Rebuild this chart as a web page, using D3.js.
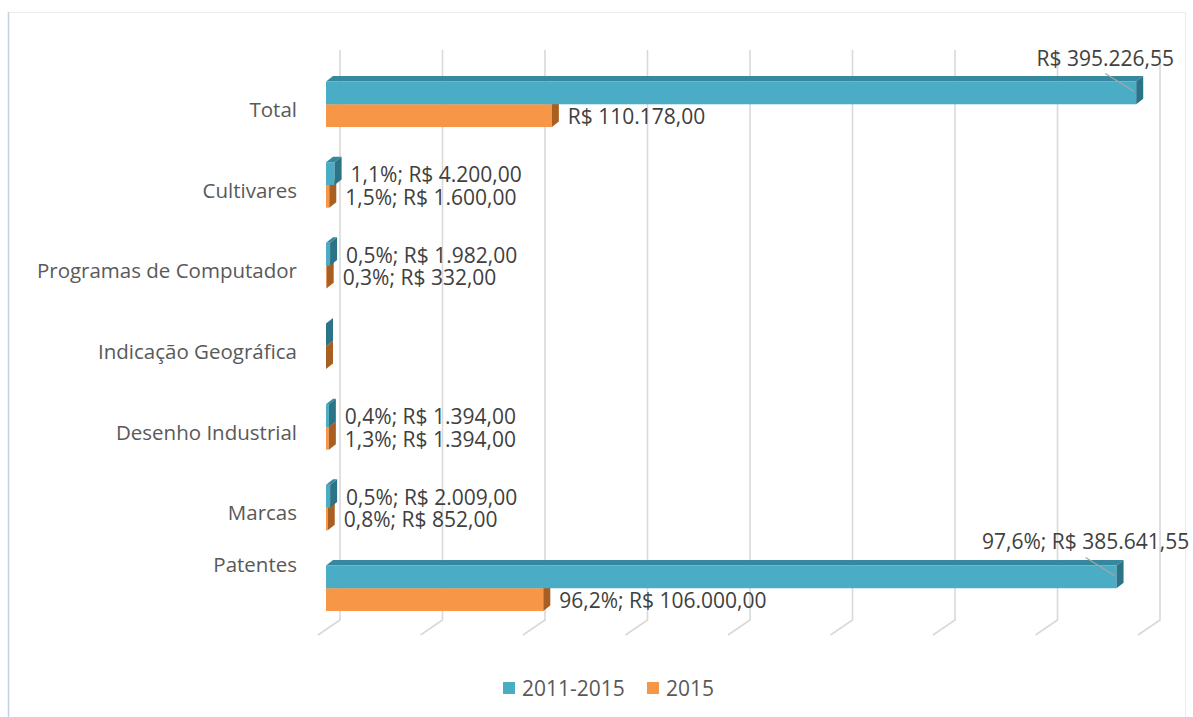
<!DOCTYPE html>
<html>
<head>
<meta charset="utf-8">
<script src="https://cdn.jsdelivr.net/npm/d3@7"></script>
<style>
  body { margin: 0; background: #fff; }
  svg { display: block; font-family: "Open Sans", sans-serif; }
</style>
</head>
<body>
<svg id="chart" width="1193" height="717"></svg>
<script>
// categories, top to bottom
var categories = ["Total", "Cultivares", "Programas de Computador", "Indicação Geográfica",
    "Desenho Industrial", "Marcas", "Patentes"];
var seriesNames = ["2011-2015", "2015"];
var values20112015 = [395226.55, 4200, 1982, 0, 1394, 2009, 385641.55];
var values2015 = [110178, 1600, 332, 0, 1394, 852, 106000];
var pct20112015 = [null, 1.1, 0.5, null, 0.4, 0.5, 97.6];
var pct2015 = [null, 1.5, 0.3, null, 1.3, 0.8, 96.2];
var gridTicks = [0, 50000, 100000, 150000, 200000, 250000, 300000, 350000, 400000];

var colors = {
    "2011-2015": { front: "#4bacc6", top: "#36889e", side: "#2b7487" },
    "2015": { front: "#f79646", top: "#c6722f", side: "#a95f22" }
};

var svg = d3.select("#chart");

// pt-BR number format
var br = d3.formatLocale({ decimal: ",", thousands: ".", grouping: [3], currency: ["R$ ", ""] });
var money = br.format("$,.2f");
var pctFmt = br.format(",.1f");

// scales
var x = d3.scaleLinear().domain([0, 400000]).range([326, 1146]);
var y = d3.scaleBand().domain(categories).range([63.7, 628.3]);
var inner = d3.scaleBand().domain(seriesNames).range([-22.5, 23]);

// 3d offsets
var dx = 7, dy = 5.5;       // bar depth
var wallDx = 14, floorDx = 22, floorDy = 15;

// outer frame
svg.append("rect")
    .attr("x", 8.5).attr("y", 12.5)
    .attr("width", 1177).attr("height", 712)
    .attr("fill", "none")
    .attr("stroke", "#ececec");
svg.append("line")
    .attr("x1", 8.5).attr("x2", 8.5)
    .attr("y1", 12).attr("y2", 717)
    .attr("stroke", "#c3cfe4")
    .attr("stroke-width", 1.5);

// gridlines on the back wall + floor
var grid = svg.append("g");
gridTicks.forEach(function (t) {
    var gx = x(t) + wallDx;
    grid.append("path")
        .attr("d", "M" + gx + ",50 L" + gx + ",620 L" + (gx - floorDx) + "," + (620 + floorDy))
        .attr("fill", "none")
        .attr("stroke", "#d9d9d9")
        .attr("stroke-width", 1.6);
});

// category labels
svg.append("g").selectAll("text")
    .data(categories)
    .join("text")
    .attr("x", 297)
    .attr("y", function (d, i) {
        // the last label sits higher in the original
        return y(d) + y.bandwidth() / 2 + (i === categories.length - 1 ? -16 : 13);
    })
    .attr("text-anchor", "end")
    .attr("font-size", "20.5px")
    .attr("fill", "#595959")
    .text(function (d) { return d; });

// bar data
var bars = [];
categories.forEach(function (c, i) {
    bars.push({ cat: c, s: "2015", v: values2015[i], p: pct2015[i] });
    bars.push({ cat: c, s: "2011-2015", v: values20112015[i], p: pct20112015[i] });
});

var barG = svg.append("g");
bars.forEach(function (b) {
    var y0 = y(b.cat) + y.bandwidth() / 2 + inner(b.s);
    var h = inner.bandwidth();
    var x0 = x(0), x1 = x(b.v);
    var col = colors[b.s];
    var g = barG.append("g");
    g.append("path")
        .attr("d", "M" + x0 + "," + y0 + " L" + (x0 + dx) + "," + (y0 - dy) +
            " L" + (x1 + dx) + "," + (y0 - dy) + " L" + x1 + "," + y0 + "Z")
        .attr("fill", col.top);
    g.append("rect")
        .attr("x", x0).attr("y", y0)
        .attr("width", x1 - x0).attr("height", h)
        .attr("fill", col.front);
    g.append("path")
        .attr("d", "M" + x1 + "," + y0 + " L" + (x1 + dx) + "," + (y0 - dy) +
            " L" + (x1 + dx) + "," + (y0 + h - dy) + " L" + x1 + "," + (y0 + h) + "Z")
        .attr("fill", col.side);
    b.y0 = y0; b.h = h; b.x1 = x1;
});

// data labels
var labelG = svg.append("g");
bars.forEach(function (b) {
    if (b.v === 0) return;
    var txt = (b.p !== null ? pctFmt(b.p) + "%; " : "") + money(b.v);
    if (b.s === "2011-2015" && b.v > 300000) {
        // label above the bar end with a leader line
        var cx = b.x1 - 31, by = b.y0 - 16;
        labelG.append("line")
            .attr("x1", cx).attr("y1", by + 8)
            .attr("x2", b.x1 - 2).attr("y2", b.y0 + 10)
            .attr("stroke", "#a6a6a6")
            .attr("stroke-width", 1.2);
        labelG.append("text")
            .attr("x", cx).attr("y", by)
            .attr("text-anchor", "middle")
            .attr("font-size", "21px")
            .attr("fill", "#404040")
            .text(txt);
    } else {
        labelG.append("text")
            .attr("x", b.x1 + 16)
            .attr("y", b.y0 + b.h / 2 + 8.5)
            .attr("font-size", "21px")
            .attr("fill", "#404040")
            .text(txt);
    }
});

// legend
var legend = svg.append("g");
var legendX = [503, 647];
seriesNames.forEach(function (s, i) {
    legend.append("rect")
        .attr("x", legendX[i]).attr("y", 682)
        .attr("width", 12).attr("height", 12)
        .attr("fill", colors[s].front);
    legend.append("text")
        .attr("x", legendX[i] + 19).attr("y", 696)
        .attr("font-size", "21px")
        .attr("fill", "#595959")
        .text(s);
});
</script>
</body>
</html>
